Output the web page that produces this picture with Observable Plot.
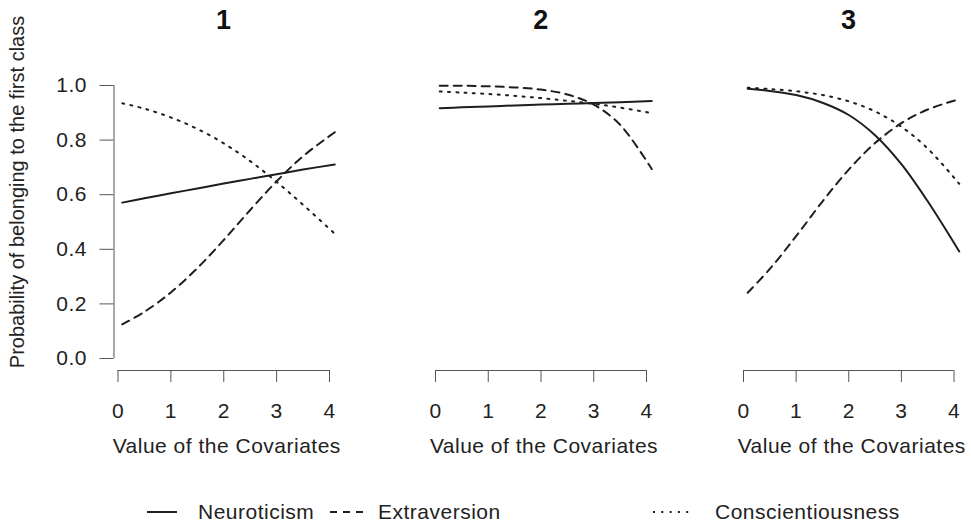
<!DOCTYPE html>
<html><head><meta charset="utf-8">
<script src="https://cdn.jsdelivr.net/npm/d3@7"></script>
<script src="https://cdn.jsdelivr.net/npm/@observablehq/plot@0.6"></script>
<style>
body{margin:0;background:#fff;}
#chart{position:relative;width:971px;height:522px;font-family:"Liberation Sans",Arial,sans-serif;color:#222;overflow:hidden;background:#fff}
#chart svg{position:absolute;top:0;overflow:visible}
.ytitle{position:absolute;left:17px;top:192px;transform:translate(-50%,-50%) rotate(-90deg);font-size:20px;white-space:nowrap;color:#222}
</style></head><body><div id="chart"></div>
<script>
// ---- data ----
const panelTitles = ["1", "2", "3"];
const seriesNames = ["Neuroticism", "Extraversion", "Conscientiousness"];
const xValues = [0.08, 0.5, 1, 1.5, 2, 2.5, 3, 3.5, 4.1];
const xTicks = [0, 1, 2, 3, 4];
const yTicks = [0, 0.2, 0.4, 0.6, 0.8, 1];

const p1Neuroticism       = [0.571, 0.587, 0.605, 0.623, 0.641, 0.658, 0.675, 0.692, 0.711];
const p1Extraversion      = [0.125, 0.171, 0.242, 0.331, 0.434, 0.544, 0.649, 0.741, 0.829];
const p1Conscientiousness = [0.935, 0.915, 0.883, 0.841, 0.788, 0.723, 0.647, 0.563, 0.457];

const p2Neuroticism       = [0.917, 0.920, 0.923, 0.927, 0.930, 0.933, 0.936, 0.939, 0.943];
const p2Extraversion      = [0.999, 0.999, 0.997, 0.993, 0.985, 0.967, 0.930, 0.856, 0.694];
const p2Conscientiousness = [0.978, 0.974, 0.969, 0.962, 0.954, 0.944, 0.933, 0.919, 0.899];

const p3Neuroticism       = [0.988, 0.980, 0.965, 0.937, 0.892, 0.818, 0.712, 0.576, 0.392];
const p3Extraversion      = [0.241, 0.328, 0.448, 0.575, 0.692, 0.789, 0.862, 0.912, 0.950];
const p3Conscientiousness = [0.992, 0.987, 0.979, 0.965, 0.942, 0.905, 0.849, 0.769, 0.640];

const panelSeries = [
  [p1Neuroticism, p1Extraversion, p1Conscientiousness],
  [p2Neuroticism, p2Extraversion, p2Conscientiousness],
  [p3Neuroticism, p3Extraversion, p3Conscientiousness]
];

const xTitle = "Value of the Covariates";
const yTitle = "Probability of belonging to the first class";

// ---- styles / layout ----
const dashes = [null, "8,6", "2,6.3"];
const lineColor = "#1e1e1e";
const axisColor = "#555";
const fontFamily = "'Liberation Sans', Arial, sans-serif";
const layout = [
  {left: 0,   width: 350, mL: 117.5, mR: 21,   yAxis: true},
  {left: 340, width: 320, mL: 95,    mR: 14,   yAxis: false},
  {left: 660, width: 311, mL: 83,    mR: 17.5, yAxis: false}
];

const chart = document.getElementById("chart");

panelTitles.forEach((title, i) => {
  const L = layout[i];
  const rows = [];
  panelSeries[i].forEach((vals, s) => vals.forEach((v, k) => rows.push({x: xValues[k], y: v, s: seriesNames[s]})));
  const marks = [];
  if (L.yAxis) {
    marks.push(Plot.ruleX([0], {y1: 0, y2: 1, dx: -4, stroke: axisColor}));
    marks.push(Plot.axisY({ticks: yTicks, tickFormat: d3.format(".1f"), tickSize: 14, tickPadding: 13, dx: -4, stroke: axisColor, fill: "#222", label: null}));
  }
  marks.push(Plot.ruleY([0], {x1: 0, x2: 4, dy: 12, stroke: axisColor}));
  marks.push(Plot.axisX({ticks: xTicks, tickFormat: d3.format("d"), tickSize: 12, tickPadding: 21, dy: 12, stroke: axisColor, fill: "#222", label: null}));
  seriesNames.forEach((name, s) => {
    const o = {x: "x", y: "y", curve: "catmull-rom", stroke: lineColor, strokeWidth: 2};
    if (dashes[s]) o.strokeDasharray = dashes[s];
    marks.push(Plot.line(rows.filter(r => r.s === name), o));
  });
  marks.push(Plot.text([title], {x: 2, y: 1, dy: -65, text: d => d, fontSize: 27, fontWeight: "bold", fill: "#111"}));
  marks.push(Plot.text([xTitle], {x: 2, y: 0, dy: 88, dx: 3, text: d => d, fontSize: 21, fill: "#222"}));

  const svg = Plot.plot({
    width: L.width, height: 440,
    marginLeft: L.mL, marginRight: L.mR, marginTop: 85, marginBottom: 82,
    x: {domain: [0, 4], axis: null},
    y: {domain: [0, 1], axis: null},
    style: {fontFamily, fontSize: "21px", letterSpacing: "0.5px", color: "#222", background: "transparent", overflow: "visible"},
    marks
  });
  svg.style.left = L.left + "px";
  chart.appendChild(svg);
});

// y title
const yt = document.createElement("div");
yt.className = "ytitle";
yt.textContent = yTitle;
chart.appendChild(yt);

// legend
const legendX = [147, 330, 653];
const legendLen = [30, 33, 37];
const legendTextX = [198, 378, 715];
const lg = d3.create("svg").attr("width", 971).attr("height", 40).style("top", "492px").style("left", "0px");
seriesNames.forEach((name, s) => {
  const ln = lg.append("line").attr("x1", legendX[s]).attr("x2", legendX[s] + legendLen[s])
    .attr("y1", 20).attr("y2", 20).attr("stroke", lineColor).attr("stroke-width", 2);
  if (dashes[s]) ln.attr("stroke-dasharray", s === 1 ? "7,6" : dashes[s]);
  lg.append("text").attr("x", legendTextX[s]).attr("y", 20).attr("dy", "0.35em")
    .attr("font-size", 21).attr("letter-spacing", "0.5px").attr("font-family", fontFamily).attr("fill", "#222").text(name);
});
chart.appendChild(lg.node());
</script></body></html>
